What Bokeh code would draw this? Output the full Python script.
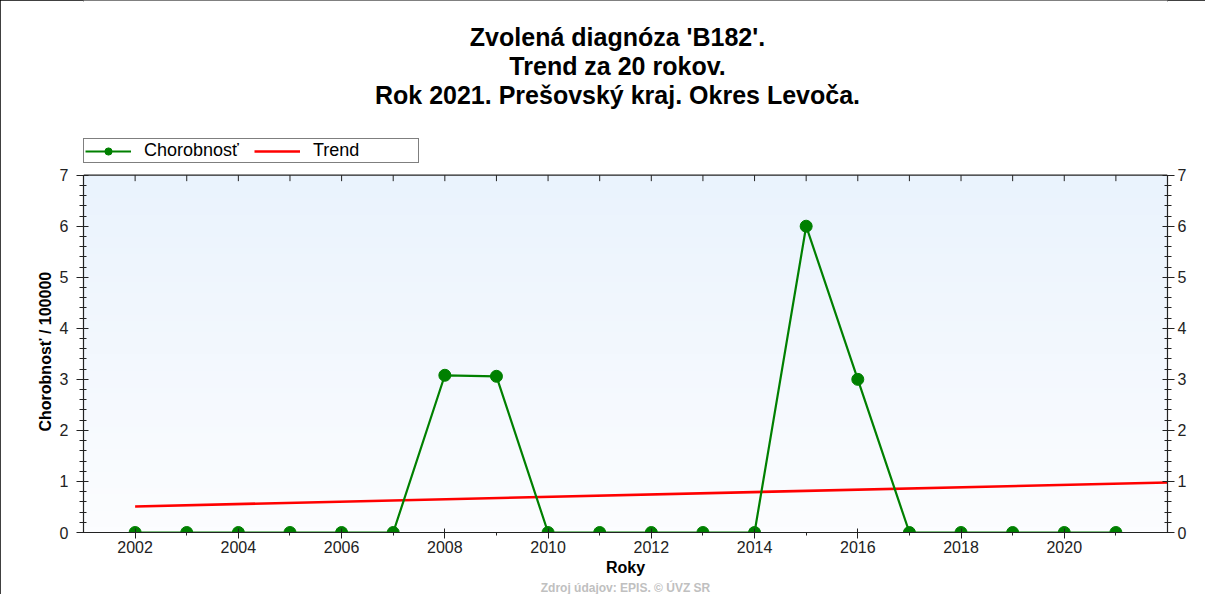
import numpy as np
from bokeh.plotting import figure
from bokeh.models import (Range1d, LinearAxis, FixedTicker, SingleIntervalTicker,
                          Legend, LegendItem, Label, Title, ColumnDataSource)
from bokeh.embed import file_html
from bokeh.resources import INLINE

# ---------------- data ----------------
years = [2002, 2003, 2004, 2005, 2006, 2007, 2008, 2009, 2010, 2011,
         2012, 2013, 2014, 2015, 2016, 2017, 2018, 2019, 2020, 2021]
chorobnost = [0, 0, 0, 0, 0, 0, 3.08, 3.06, 0, 0,
              0, 0, 0, 6.0, 3.0, 0, 0, 0, 0, 0]
trend_years = [2002, 2022]
trend_values = [0.51, 0.98]

x_major_ticks = [2002, 2004, 2006, 2008, 2010, 2012, 2014, 2016, 2018, 2020]
x_minor_ticks = [2003, 2005, 2007, 2009, 2011, 2013, 2015, 2017, 2019, 2021]

title_lines = ["Zvolená diagnóza 'B182'.",
               "Trend za 20 rokov.",
               "Rok 2021. Prešovský kraj. Okres Levoča."]
x_label = "Roky"
y_label = "Chorobnosť / 100000"
series_names = ["Chorobnosť", "Trend"]
source_note = "Zdroj údajov: EPIS. © ÚVZ SR"

X0, X1 = 2001, 2022
Y0, Y1 = 0, 7

# ---------------- layout (pixels) ----------------
W, H = 1205, 594
LEFT, RIGHT, BOTTOM = 83, 38, 61
FRAME_H = H - BOTTOM          # frame reaches the top of the canvas
PLOT_H = 358                  # pixel height of the 0..7 value band
Y_TOP = Y1 * FRAME_H / PLOT_H # extra room above the band for title/legend
PX = PLOT_H / (Y1 - Y0)       # pixels per value unit

FONT = "Liberation Sans"
GREEN = "#008000"
RED = "#ff0000"
AXIS = "#222222"

p = figure(width=W, height=H, output_backend="svg", toolbar_location=None,
           x_range=Range1d(X0, X1), y_range=Range1d(Y0, Y_TOP),
           x_axis_location=None, y_axis_location=None,
           min_border_left=LEFT, min_border_right=RIGHT,
           min_border_top=0, min_border_bottom=BOTTOM)
p.grid.visible = False
p.outline_line_color = None
p.border_fill_color = "white"
p.background_fill_color = "white"
p.styles = {"outline": "2px solid #000000", "outline-offset": "-2px"}

# vertical gradient behind the value band (styling only)
N = 64
grad = np.empty((N, 1), dtype=np.uint32)
view = grad.view(dtype=np.uint8).reshape((N, 1, 4))
t = np.linspace(0.0, 1.0, N)  # 0 bottom -> 1 top
view[:, 0, 0] = (252 + (234 - 252) * t).astype(np.uint8)
view[:, 0, 1] = (253 + (243 - 253) * t).astype(np.uint8)
view[:, 0, 2] = (255 + (253 - 255) * t).astype(np.uint8)
view[:, 0, 3] = 255
p.image_rgba(image=[grad], x=X0, y=Y0, dw=X1 - X0, dh=Y1 - Y0, level="image")


def style_axis(ax):
    ax.axis_line_color = AXIS
    ax.axis_line_width = 1.2
    ax.major_tick_line_color = AXIS
    ax.minor_tick_line_color = AXIS
    ax.major_label_text_font = FONT
    ax.major_label_text_font_size = "16px"
    ax.major_label_text_color = "#222222"
    ax.axis_label_text_font = FONT
    ax.axis_label_text_font_style = "bold"
    ax.axis_label_text_color = "#000000"


bottom = LinearAxis(ticker=FixedTicker(ticks=x_major_ticks, minor_ticks=x_minor_ticks),
                    axis_label=x_label)
style_axis(bottom)
bottom.major_tick_in = 4
bottom.major_tick_out = 6
bottom.minor_tick_in = 0
bottom.minor_tick_out = 3
bottom.major_label_standoff = 2
bottom.axis_label_standoff = 3
bottom.axis_label_text_font_size = "16px"
p.add_layout(bottom, "below")

note = Title(text=source_note, align="center", standoff=0,
             text_font=FONT, text_font_size="12px", text_font_style="bold",
             text_color="#c0c0c0")
p.add_layout(note, "below")

left = LinearAxis(ticker=SingleIntervalTicker(interval=1, num_minor_ticks=5),
                  bounds=(Y0, Y1))
style_axis(left)
left.major_tick_in = 5
left.major_tick_out = 7
left.minor_tick_in = 3
left.minor_tick_out = 4
left.major_label_standoff = 8
p.add_layout(left, "left")

# y-axis title, placed along the 0..7 band (starts 101 px above the frame bottom)
ylab = Title(text=y_label, align="left", standoff=5, offset=101,
             text_font=FONT, text_font_size="16px", text_font_style="bold",
             text_color="#000000")
p.add_layout(ylab, "left")

right = LinearAxis(ticker=SingleIntervalTicker(interval=1, num_minor_ticks=5),
                   bounds=(Y0, Y1))
style_axis(right)
right.major_tick_in = 5
right.major_tick_out = 7
right.minor_tick_in = 3
right.minor_tick_out = 4
right.major_label_standoff = 3
p.add_layout(right, "right")

# top edge of the value band with inward year ticks
p.line([X0, X1], [Y1, Y1], line_color=AXIS, line_width=1.2)
top_len = 6 / PX
p.segment(x0=years, y0=[Y1] * len(years), x1=years, y1=[Y1 - top_len] * len(years),
          line_color=AXIS, line_width=1)

# ---------------- series ----------------
src = ColumnDataSource(dict(x=years, y=chorobnost))
tr = p.line(trend_years, trend_values, line_color=RED, line_width=2.6)
gl = p.line("x", "y", source=src, line_color=GREEN, line_width=2.2)
gs = p.scatter("x", "y", source=src, size=12, fill_color=GREEN, line_color=GREEN)

legend = Legend(items=[LegendItem(label=series_names[0], renderers=[gl, gs]),
                       LegendItem(label=series_names[1], renderers=[tr])],
                orientation="horizontal", location=(0, FRAME_H - 164),
                padding=1, spacing=6, margin=0,
                glyph_width=46, glyph_height=18, label_standoff=13,
                label_width=104, label_height=16,
                label_text_font=FONT, label_text_font_size="18px",
                label_text_color="#000000",
                border_line_color="#000000", border_line_width=1,
                background_fill_color="white", background_fill_alpha=1.0)
p.add_layout(legend, "center")

# ---------------- titles ----------------
title_centers = [37, 66, 95]   # canvas y of each title line
for line, cy in zip(title_lines, title_centers):
    p.add_layout(Label(x=534, y=FRAME_H - cy, x_units="screen", y_units="screen",
                       text=line, text_align="center", text_baseline="middle",
                       text_font=FONT, text_font_size="25px", text_font_style="bold",
                       text_color="#000000"))

open("out.html", "w").write(file_html(p, INLINE))
